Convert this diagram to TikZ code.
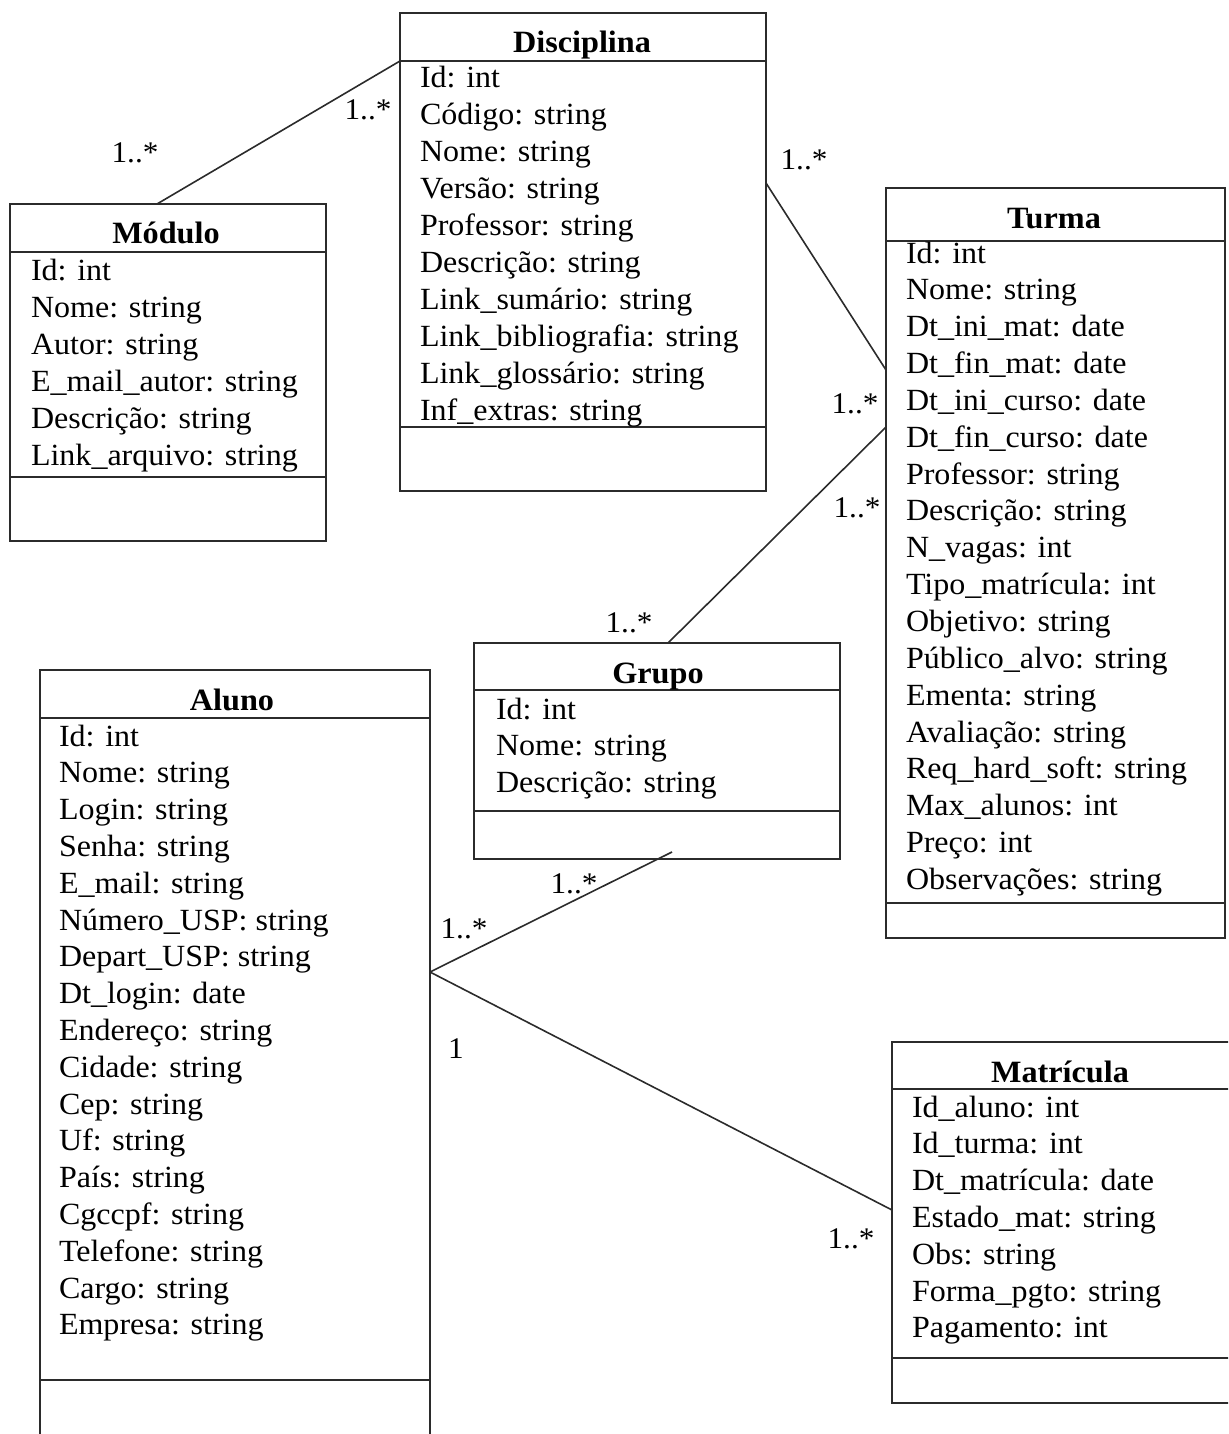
\documentclass[tikz,border=0pt]{standalone}
\usepackage{fontspec}
\setmainfont{Liberation Serif}[FakeStretch=1.04]
\usetikzlibrary{calc}
\definecolor{linegray}{HTML}{2B2B2B}
\begin{document}
\begin{tikzpicture}[x={(1pt,0pt)}, y={(0pt,-1pt)},
  every node/.style={inner sep=0pt, outer sep=0pt},
  classbox/.style={draw=linegray, line width=1.8pt, rectangle, anchor=north west},
  divider/.style={draw=linegray, line width=1.8pt},
  assoc/.style={draw=linegray, line width=1.6pt},
  ctitle/.style={font=\fontsize{31}{36}\selectfont\bfseries, anchor=base},
  attr/.style={font=\fontsize{30.8}{36}\selectfont, anchor=base west},
  mult/.style={font=\fontsize{30}{36}\selectfont, anchor=base},
]
\useasboundingbox (0,0) rectangle (1228,1434);
\clip (0,0) rectangle (1228,1434);

% ---------- class boxes ----------
\node[classbox, minimum width=366pt, minimum height=478pt] (dis) at (400,13) {};
\draw[divider] (400,61) -- (766,61);
\draw[divider] (400,427) -- (766,427);

\node[classbox, minimum width=316pt, minimum height=337pt] (mod) at (10,204) {};
\draw[divider] (10,252) -- (326,252);
\draw[divider] (10,477) -- (326,477);

\node[classbox, minimum width=339pt, minimum height=750pt] (tur) at (886,188) {};
\draw[divider] (886,241) -- (1225,241);
\draw[divider] (886,903) -- (1225,903);

\node[classbox, minimum width=366pt, minimum height=216pt] (gru) at (474,643) {};
\draw[divider] (474,690) -- (840,690);
\draw[divider] (474,811) -- (840,811);

\node[classbox, minimum width=390pt, minimum height=790pt] (alu) at (40,670) {};
\draw[divider] (40,718) -- (430,718);
\draw[divider] (40,1380) -- (430,1380);

\node[classbox, minimum width=360pt, minimum height=361pt] (mat) at (892,1042) {};
\draw[divider] (892,1089) -- (1252,1089);
\draw[divider] (892,1358) -- (1252,1358);

% ---------- titles ----------
\node[ctitle] (dis-t) at (582,53) {Disciplina};
\node[ctitle] (mod-t) at (166,243) {Módulo};
\node[ctitle] (tur-t) at (1054,228) {Turma};
\node[ctitle] (gru-t) at (658,683) {Grupo};
\node[ctitle] (alu-t) at (232,710) {Aluno};
\node[ctitle] (mat-t) at (1060,1082) {Matrícula};

% ---------- attributes ----------
\foreach \t [count=\i] in {Id: int, Código: string, Nome: string, Versão: string,
  Professor: string, Descrição: string, Link\_sumário: string,
  Link\_bibliografia: string, Link\_glossário: string, Inf\_extras: string}
  \node[attr] (dis-a\i) at (420,{88+36.9*(\i-1)}) {\t};

\foreach \t [count=\i] in {Id: int, Nome: string, Autor: string,
  E\_mail\_autor: string, Descrição: string, Link\_arquivo: string}
  \node[attr] (mod-a\i) at (31,{280+37*(\i-1)}) {\t};

\foreach \t [count=\i] in {Id: int, Nome: string, Dt\_ini\_mat: date,
  Dt\_fin\_mat: date, Dt\_ini\_curso: date, Dt\_fin\_curso: date,
  Professor: string, Descrição: string, N\_vagas: int, Tipo\_matrícula: int,
  Objetivo: string, Público\_alvo: string, Ementa: string, Avaliação: string,
  Req\_hard\_soft: string, Max\_alunos: int, Preço: int, Observações: string}
  \node[attr] (tur-a\i) at (906,{263+36.85*(\i-1)}) {\t};

\foreach \t [count=\i] in {Id: int, Nome: string, Descrição: string}
  \node[attr] (gru-a\i) at (496,{719+36.6*(\i-1)}) {\t};

\foreach \t [count=\i] in {Id: int, Nome: string, Login: string, Senha: string,
  E\_mail: string, Número\_USP: string, Depart\_USP: string, Dt\_login: date,
  Endereço: string, Cidade: string, Cep: string, Uf: string, País: string,
  Cgccpf: string, Telefone: string, Cargo: string, Empresa: string}
  \node[attr] (alu-a\i) at (59,{746+36.8*(\i-1)}) {\t};

\foreach \t [count=\i] in {Id\_aluno: int, Id\_turma: int, Dt\_matrícula: date,
  Estado\_mat: string, Obs: string, Forma\_pgto: string, Pagamento: int}
  \node[attr] (mat-a\i) at (912,{1117+36.8*(\i-1)}) {\t};

% ---------- associations ----------
\draw[assoc] ([xshift=-11pt]mod.north) -- ([yshift=-48pt]dis.north west);
\draw[assoc] ([yshift=-170pt]dis.north east) -- ([yshift=-182pt]tur.north west);
\draw[assoc] ([yshift=-239pt]tur.north west) -- ([xshift=11pt]gru.north);
\draw[assoc] ([xshift=15pt,yshift=7pt]gru.south) -- ([yshift=-302pt]alu.north east);
\draw[assoc] ([yshift=-302pt]alu.north east) -- ([yshift=-168pt]mat.north west);

% ---------- multiplicities ----------
\node[mult] (m1) at (135,163) {1..*};
\node[mult] (m2) at (368,120) {1..*};
\node[mult] (m3) at (804,170) {1..*};
\node[mult] (m4) at (855,413) {1..*};
\node[mult] (m5) at (857,517) {1..*};
\node[mult] (m6) at (629,632) {1..*};
\node[mult] (m7) at (574,893) {1..*};
\node[mult] (m8) at (464,938) {1..*};
\node[mult] (m9) at (456,1058) {1};
\node[mult] (m10) at (851,1248) {1..*};
\end{tikzpicture}
\end{document}
